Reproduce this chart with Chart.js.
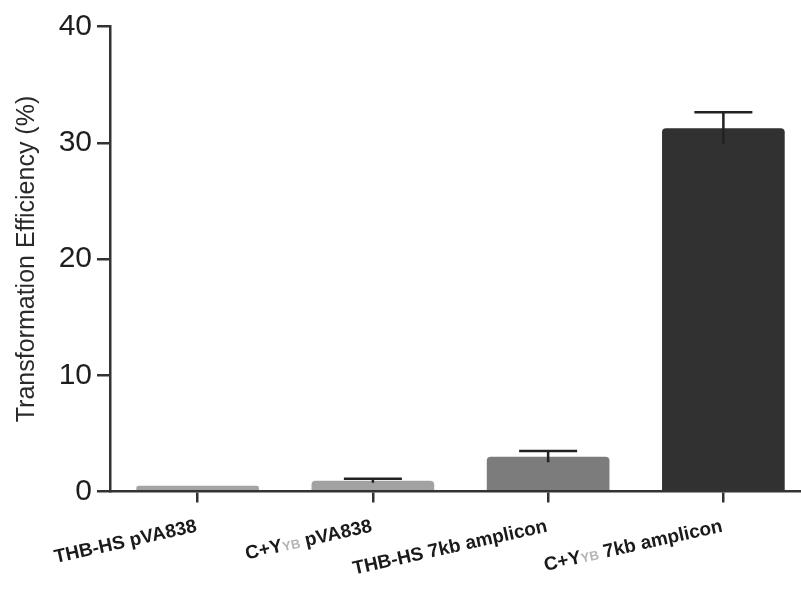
<!DOCTYPE html>
<html>
<head>
<meta charset="utf-8">
<script src="https://cdn.jsdelivr.net/npm/chart.js@4"></script>
<style>
  html, body { margin: 0; padding: 0; background: #fff; overflow: hidden; }
  canvas { display: block; }
</style>
</head>
<body>
<canvas id="effChart" width="812" height="590"></canvas>
<script>
// ===== Data =====
const categories = ['THB-HS pVA838', 'C+YYB pVA838', 'THB-HS 7kb amplicon', 'C+YYB 7kb amplicon'];
// label pieces: odd entries are the small grey subscript
const labelParts = [
  ['THB-HS pVA838'],
  ['C+Y', 'YB', ' pVA838'],
  ['THB-HS 7kb amplicon'],
  ['C+Y', 'YB', ' 7kb amplicon']
];
const efficiency = [0.5, 0.93, 3.0, 31.25];
const errUpper = [0, 0.17, 0.48, 1.37];
const barColors = ['#a4a4a4', '#a2a2a2', '#7c7c7c', '#313131'];
const yTicks = [0, 10, 20, 30, 40];

// ===== Error bars =====
const errorBars = {
  id: 'errorBars',
  afterDatasetsDraw(chart) {
    const ctx = chart.ctx;
    const meta = chart.getDatasetMeta(0);
    const y = chart.scales.y;
    ctx.save();
    ctx.strokeStyle = '#222';
    ctx.lineWidth = 2.5;
    meta.data.forEach(function(bar, i) {
      if (!errUpper[i]) return;
      const yTop = y.getPixelForValue(efficiency[i] + errUpper[i]);
      const yLow = y.getPixelForValue(efficiency[i] - errUpper[i]);
      ctx.beginPath();
      ctx.moveTo(bar.x, yLow);
      ctx.lineTo(bar.x, yTop);
      ctx.moveTo(bar.x - 29, yTop);
      ctx.lineTo(bar.x + 29, yTop);
      ctx.stroke();
    });
    ctx.restore();
  }
};

// ===== Rotated category labels (with grey subscript) =====
const rotatedLabels = {
  id: 'rotatedLabels',
  afterDraw(chart) {
    const ctx = chart.ctx;
    const xs = chart.scales.x;
    ctx.save();
    ctx.textBaseline = 'alphabetic';
    ctx.textAlign = 'left';
    labelParts.forEach(function(parts, i) {
      const fonts = parts.map((p, k) => k % 2 ? 'bold 13px Arial' : 'bold 19px Arial');
      let total = 0;
      parts.forEach(function(p, k) { ctx.font = fonts[k]; total += ctx.measureText(p).width; });
      ctx.save();
      ctx.translate(xs.getPixelForTick(i), xs.top + 40);
      ctx.rotate(-12.5 * Math.PI / 180);
      let cx = -total;
      parts.forEach(function(p, k) {
        ctx.font = fonts[k];
        ctx.fillStyle = k % 2 ? '#b4b4b4' : '#1a1a1a';
        ctx.fillText(p, cx, 0);
        cx += ctx.measureText(p).width;
      });
      ctx.restore();
    });
    ctx.restore();
  }
};

const ctx = document.getElementById('effChart').getContext('2d');
const effChart = new Chart(ctx, {
  type: 'bar',
  data: {
    labels: categories,
    datasets: [{
      data: efficiency,
      backgroundColor: barColors,
      borderWidth: 0,
      borderRadius: 4,
      barPercentage: 0.7,
      categoryPercentage: 1.0
    }]
  },
  options: {
    responsive: false,
    animation: false,
    layout: { padding: { top: 26.5, right: 1, left: 0, bottom: 0 } },
    plugins: { legend: { display: false }, tooltip: { enabled: false } },
    scales: {
      x: {
        afterFit(scale) { scale.height = 98.5; },
        ticks: { display: false },
        grid: { offset: false, drawOnChartArea: false, drawTicks: true, tickLength: 11, color: '#333', lineWidth: 2.5 },
        border: { display: true, color: '#333', width: 2.5, z: 1 }
      },
      y: {
        min: 0,
        max: 40,
        afterFit(scale) { scale.width = 110; },
        afterBuildTicks(scale) { scale.ticks = yTicks.map(v => ({ value: v })); },
        ticks: {
          font: { family: 'Arial', size: 30 },
          color: '#1e1e1e',
          padding: 5
        },
        grid: { drawOnChartArea: false, drawTicks: true, tickLength: 13, color: '#333', lineWidth: 2.5 },
        border: { display: true, color: '#333', width: 2.5 },
        title: {
          display: true,
          text: 'Transformation Efficiency (%)',
          font: { family: 'Arial', size: 25 },
          color: '#2a2a2a',
          padding: { top: 12, bottom: 0 }
        }
      }
    }
  },
  plugins: [errorBars, rotatedLabels]
});
</script>
</body>
</html>
